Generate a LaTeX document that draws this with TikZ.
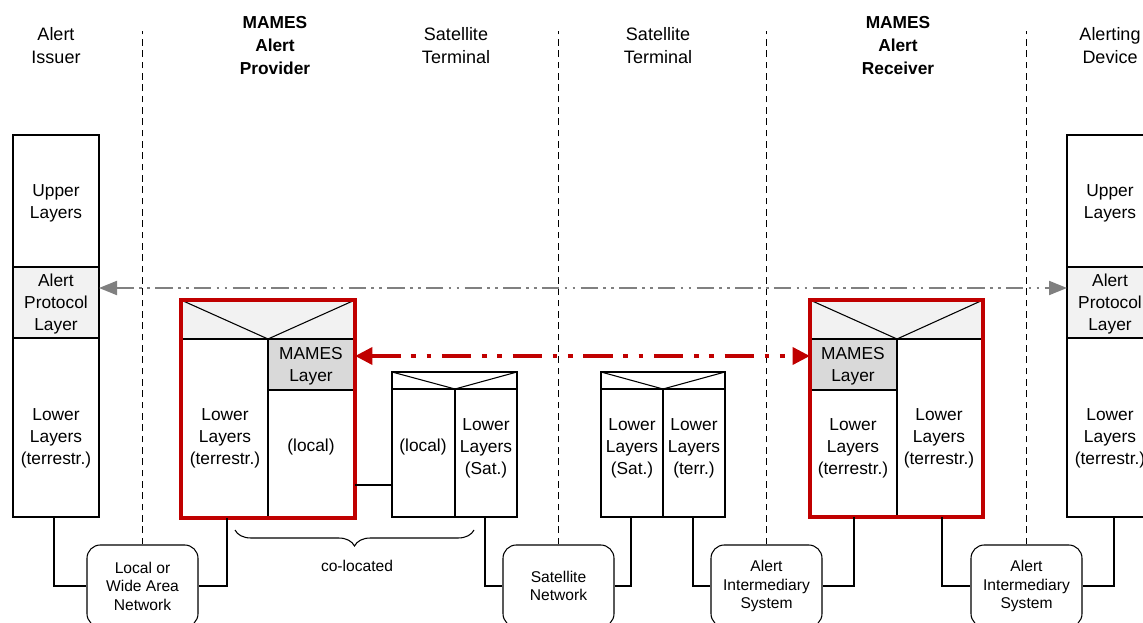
\documentclass[tikz,border=0pt]{standalone}
\usepackage{fontspec}
\setmainfont{Liberation Sans}
\usetikzlibrary{arrows.meta,decorations.pathreplacing}
\definecolor{mamesred}{RGB}{192,0,0}
\definecolor{bandgray}{RGB}{242,242,242}
\definecolor{layergray}{RGB}{217,217,217}
\definecolor{linkgray}{RGB}{128,128,128}
\tikzset{
  txt/.style={align=center,inner sep=0pt,font=\fontsize{13}{16.5}\selectfont},
  head/.style={align=center,inner sep=0pt,font=\fontsize{13.5}{17.25}\selectfont},
  bhead/.style={head,font=\fontsize{13}{17.25}\selectfont\bfseries},
  small/.style={align=center,inner sep=0pt,font=\fontsize{11.7}{13.9}\selectfont},
  netbox/.style={draw,line width=0.8pt,rounded corners=10pt,fill=white,
                 minimum width=83.25pt,minimum height=61.5pt,
                 align=center,inner sep=0pt,font=\fontsize{11.7}{13.9}\selectfont},
  sep/.style={line width=1.2pt,dash pattern=on 5pt off 3.5pt},
  wire/.style={line width=0.8pt},
  redbox/.style={draw=mamesred,line width=2.4pt},
  glink/.style={linkgray,line width=1.5pt,
                dash pattern=on 13pt off 4pt on 2pt off 4pt on 2pt off 4pt,
                {Triangle[length=13.5pt,width=10.5pt]}-{Triangle[length=13.5pt,width=10.5pt]}},
  rlink/.style={mamesred,line width=3.2pt,
                dash pattern=on 22pt off 8pt on 3.5pt off 8pt on 3.5pt off 8pt,
                {Triangle[length=13pt,width=12.5pt]}-{Triangle[length=13pt,width=12.5pt]}}
}
\begin{document}
\begin{tikzpicture}[x=0.75pt,y=-0.75pt,line join=miter]
  \useasboundingbox (0,0) rectangle (1143,623);
  \clip (0,0) rectangle (1143,623);

  % headings
  \node[head]  (issuer)   at (  56,46) {Alert\\Issuer};
  \node[bhead] (provider) at ( 275,46) {MAMES\\Alert\\Provider};
  \node[head]  (satterma) at ( 456,46) {Satellite\\Terminal};
  \node[head]  (sattermb) at ( 658,46) {Satellite\\Terminal};
  \node[bhead] (receiver) at ( 898,46) {MAMES\\Alert\\Receiver};
  \node[head]  (device)   at (1110,46) {Alerting\\Device};

  % networks
  \node[netbox] (lan)    at ( 142.5,586) {Local or\\Wide Area\\Network};
  \node[netbox] (satnet) at ( 558.5,586) {Satellite\\Network};
  \node[netbox] (aisa)   at ( 766.5,586) {Alert\\Intermediary\\System};
  \node[netbox] (aisb)   at (1026.5,586) {Alert\\Intermediary\\System};

  % domain borders
  \foreach \n in {lan,satnet,aisa,aisb}
    \draw[sep] (\n.north) -- ++(0,-513);

  % alert issuer
  \draw[wire]                (  13,135) rectangle (  99,267);
  \draw[wire,fill=bandgray]  (  13,267) rectangle (  99,338);
  \draw[wire]                (  13,338) rectangle (  99,517);
  \node[txt] (issup)  at (  56,203) {Upper\\Layers};
  \node[txt] (issap)  at (  56,304) {Alert\\Protocol\\Layer};
  \node[txt] (isslow) at (  56,438) {Lower\\Layers\\(terrestr.)};

  % alerting device
  \draw[wire]                (1067,135) rectangle (1153,267);
  \draw[wire,fill=bandgray]  (1067,267) rectangle (1153,338);
  \draw[wire]                (1067,338) rectangle (1153,517);
  \node[txt] (devup)  at (1110,203) {Upper\\Layers};
  \node[txt] (devap)  at (1110,304) {Alert\\Protocol\\Layer};
  \node[txt] (devlow) at (1110,438) {Lower\\Layers\\(terrestr.)};

  % mames alert provider
  \draw[wire,fill=bandgray]  ( 181,300) rectangle ( 355,339);
  \draw[wire] ( 181,300) -- ( 268,339) -- ( 355,300);
  \draw[wire,fill=layergray] ( 268,339) rectangle ( 355,390);
  \draw[wire] ( 268,339) -- ( 268,518);
  \draw[redbox] ( 181,300) rectangle ( 355,518);
  \node[txt] (provlow)   at ( 225,438) {Lower\\Layers\\(terrestr.)};
  \node[txt] (provmames) at ( 311,366) {MAMES\\Layer};
  \node[txt] (provloc)   at ( 311,447) {(local)};

  % satellite terminal (provider side)
  \draw[wire] ( 392,372) rectangle ( 517,517);
  \draw[wire] ( 392,389) -- ( 517,389);
  \draw[wire] ( 392,372) -- ( 455,389) -- ( 517,372);
  \draw[wire] ( 455,389) -- ( 455,517);
  \node[txt] (staloc) at ( 423,447) {(local)};
  \node[txt] (stasat) at ( 486,448) {Lower\\Layers\\(Sat.)};

  % satellite terminal (receiver side)
  \draw[wire] ( 601,372) rectangle ( 725,517);
  \draw[wire] ( 601,389) -- ( 725,389);
  \draw[wire] ( 601,372) -- ( 663,389) -- ( 725,372);
  \draw[wire] ( 663,389) -- ( 663,517);
  \node[txt] (stbsat)  at ( 632,448) {Lower\\Layers\\(Sat.)};
  \node[txt] (stbterr) at ( 694,448) {Lower\\Layers\\(terr.)};

  % mames alert receiver
  \draw[wire,fill=bandgray]  ( 810,300) rectangle ( 983,339);
  \draw[wire] ( 810,300) -- ( 897,339) -- ( 983,300);
  \draw[wire,fill=layergray] ( 810,339) rectangle ( 897,390);
  \draw[wire] ( 897,339) -- ( 897,517);
  \draw[redbox] ( 810,300) rectangle ( 983,517);
  \node[txt] (recmames) at ( 853,366) {MAMES\\Layer};
  \node[txt] (reclowa)  at ( 853,448) {Lower\\Layers\\(terrestr.)};
  \node[txt] (reclowb)  at ( 939,438) {Lower\\Layers\\(terrestr.)};

  % attachment points
  \coordinate (issb)   at (  54,517);
  \coordinate (provb)  at ( 227,518);
  \coordinate (provr)  at ( 355,485);
  \coordinate (stal)   at ( 392,485);
  \coordinate (stab)   at ( 485,517);
  \coordinate (stbb)   at ( 631,517);
  \coordinate (stbc)   at ( 693,517);
  \coordinate (recb)   at ( 854,517);
  \coordinate (recc)   at ( 942,517);
  \coordinate (devb)   at (1114,517);
  \coordinate (issr)   at (  99,288);
  \coordinate (devl)   at (1067,288);
  \coordinate (provm)  at ( 355,356);
  \coordinate (recm)   at ( 810,356);

  % links
  \draw[wire] (issb)  |- (lan.west);
  \draw[wire] (provb) |- (lan.east);
  \draw[wire] (provr) -- (stal);
  \draw[wire] (stab)  |- (satnet.west);
  \draw[wire] (stbb)  |- (satnet.east);
  \draw[wire] (stbc)  |- (aisa.west);
  \draw[wire] (recb)  |- (aisa.east);
  \draw[wire] (recc)  |- (aisb.west);
  \draw[wire] (devb)  |- (aisb.east);

  % peer protocols
  \draw[glink] (issr)  -- (devl);
  \draw[rlink] (provm) -- (recm);

  % co-location
  \draw[wire,decorate,decoration={brace,mirror,amplitude=12pt}]
       ( 235,530) -- ( 474,530) coordinate[pos=0.5] (brace);
  \node[small] (coloc) at ( 357,566) {co-located};
\end{tikzpicture}
\end{document}
